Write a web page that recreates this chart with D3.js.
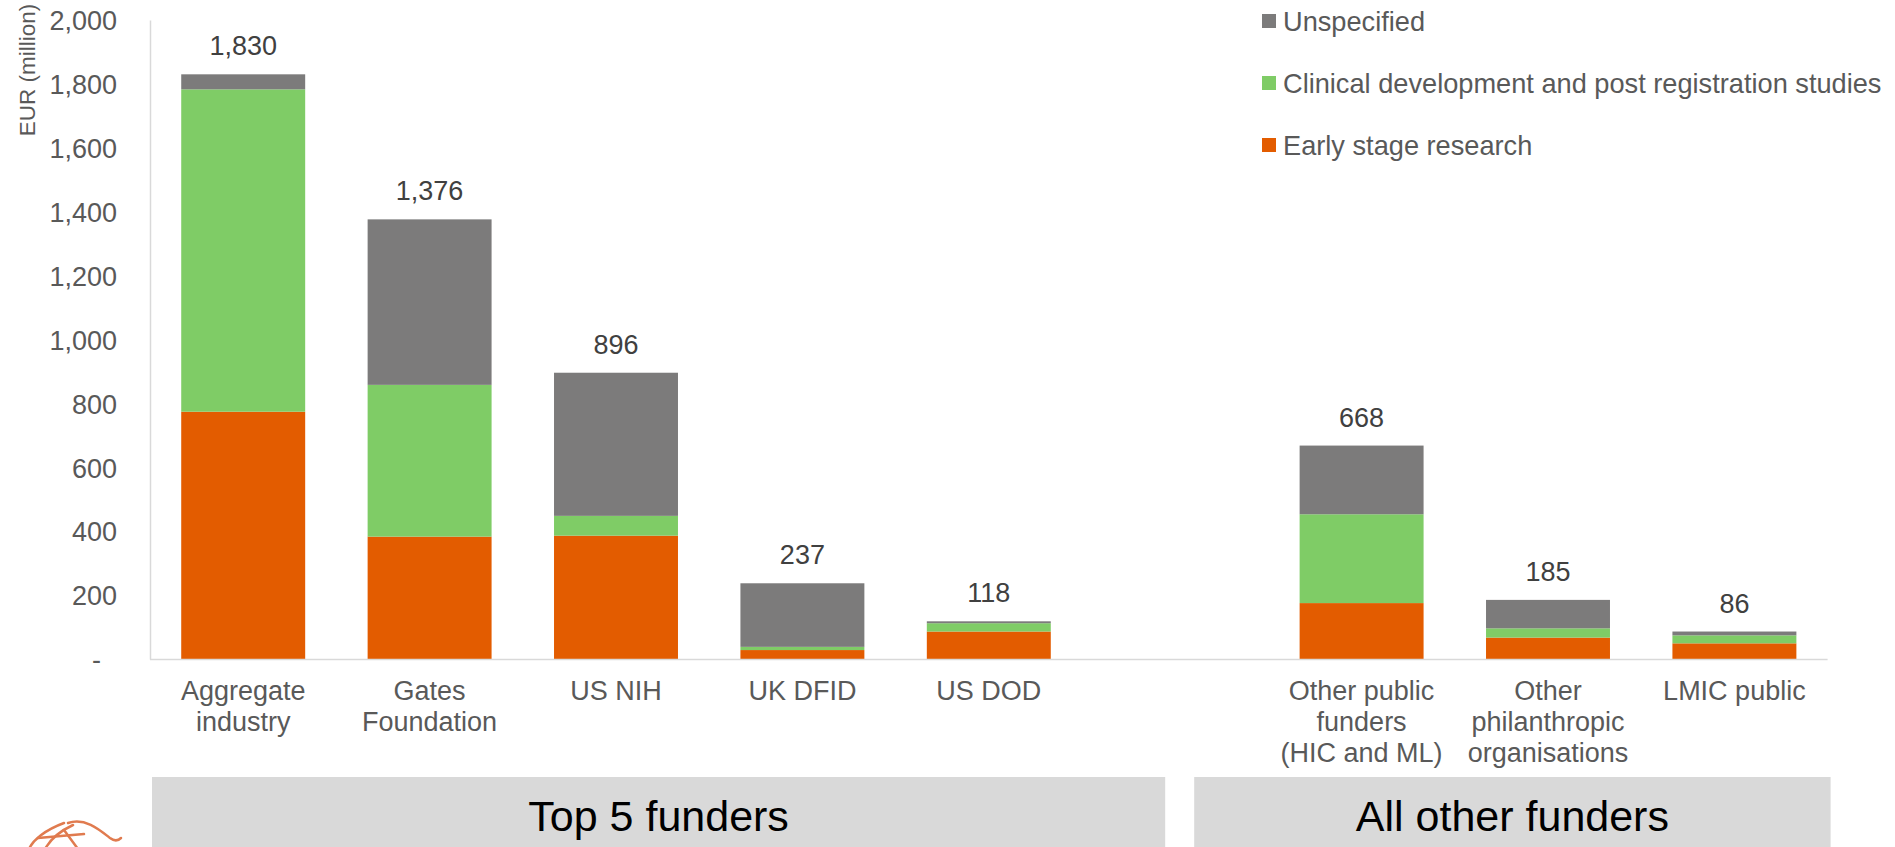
<!DOCTYPE html>
<html>
<head>
<meta charset="utf-8">
<script src="https://cdn.jsdelivr.net/npm/d3@7"></script>
<style>
  html, body { margin: 0; padding: 0; background: #ffffff; }
  svg { display: block; font-family: "Liberation Sans", Arial, sans-serif; }
</style>
</head>
<body>
<svg id="chart" width="1895" height="847"></svg>
<script>
// ---------------- data ----------------
const categories = ["Aggregate industry", "Gates Foundation", "US NIH", "UK DFID", "US DOD", "",
                    "Other public funders (HIC and ML)", "Other philanthropic organisations", "LMIC public"];
const categoryLines = [["Aggregate", "industry"], ["Gates", "Foundation"], ["US NIH"], ["UK DFID"], ["US DOD"], [],
                       ["Other public", "funders", "(HIC and ML)"], ["Other", "philanthropic", "organisations"], ["LMIC public"]];
const earlyStage   = [774, 383, 386, 28, 86, 0, 175, 67, 49];
const clinical     = [1009, 475, 62, 10, 26, 0, 278, 29, 25];
const unspecified  = [47, 518, 448, 199, 6, 0, 215, 89, 12];
const totals       = [1830, 1376, 896, 237, 118, null, 668, 185, 86];
const seriesNames  = ["Early stage research", "Clinical development and post registration studies", "Unspecified"];
const yTicks       = [0, 200, 400, 600, 800, 1000, 1200, 1400, 1600, 1800, 2000];
const groupLabels  = ["Top 5 funders", "All other funders"];

// ---------------- layout ----------------
const colors = ["#e35c00", "#7fcc66", "#7c7b7b"];
const svg = d3.select("#chart");
const plotLeft = 150, plotRight = 1827.6, plotTop = 20, plotBottom = 659;

const x = d3.scaleBand().domain(d3.range(categories.length))
  .range([plotLeft, plotRight]).paddingInner(0.335).paddingOuter(0.1675);
const y = d3.scaleLinear().domain([0, 2000]).range([plotBottom, plotTop]);

const rows = categories.map((c, i) => ({ i, s0: earlyStage[i], s1: clinical[i], s2: unspecified[i] }));
const stacked = d3.stack().keys(["s0", "s1", "s2"])(rows);

// y axis
const yAxis = svg.append("g").attr("transform", `translate(${plotLeft},0)`)
  .call(d3.axisLeft(y).tickValues(yTicks).tickSize(0).tickPadding(33)
    .tickFormat(d => d === 0 ? "-" : d3.format(",")(d)));
yAxis.select(".domain").attr("stroke", "#d9d9d9").attr("stroke-width", 1.5);
yAxis.selectAll("text").attr("fill", "#595959").style("font-size", "27px")
  .attr("font-family", "Liberation Sans, Arial, sans-serif")
  .attr("dy", "0.36em")
  .attr("dx", d => d === 0 ? -16 : 0);

// y title
svg.append("text")
  .attr("transform", `translate(35,70) rotate(-90)`)
  .attr("text-anchor", "middle").attr("fill", "#595959").style("font-size", "22.5px")
  .text("EUR (million)");

// bars
svg.append("g").selectAll("g").data(stacked).join("g")
  .attr("fill", (d, k) => colors[k])
  .selectAll("rect").data(d => d.filter(p => categories[p.data.i] !== "")).join("rect")
  .attr("x", d => x(d.data.i))
  .attr("width", x.bandwidth())
  .attr("y", d => y(d[1]))
  .attr("height", d => y(d[0]) - y(d[1]));

// baseline
svg.append("line").attr("x1", plotLeft).attr("x2", plotRight)
  .attr("y1", plotBottom + 0.5).attr("y2", plotBottom + 0.5)
  .attr("stroke", "#d9d9d9").attr("stroke-width", 1.5);

// total labels
svg.append("g").selectAll("text").data(totals.map((t, i) => ({ t, i })).filter(d => d.t !== null)).join("text")
  .attr("x", d => x(d.i) + x.bandwidth() / 2)
  .attr("y", d => y(d.t) - 19)
  .attr("text-anchor", "middle").attr("fill", "#404040").style("font-size", "27px")
  .text(d => d3.format(",")(d.t));

// category labels
const cat = svg.append("g").selectAll("text").data(categoryLines.map((l, i) => ({ l, i }))).join("text")
  .attr("text-anchor", "middle").attr("fill", "#595959").style("font-size", "27px");
cat.selectAll("tspan").data(d => d.l.map((s, k) => ({ s, k, i: d.i }))).join("tspan")
  .attr("x", d => x(d.i) + x.bandwidth() / 2)
  .attr("y", d => 700 + d.k * 31)
  .text(d => d.s);

// legend
const legendOrder = [2, 1, 0];
const legendY = [21, 83, 145];
const lg = svg.append("g").selectAll("g").data(legendOrder).join("g")
  .attr("transform", (d, k) => `translate(1262,${legendY[k]})`);
lg.append("rect").attr("x", 0).attr("y", -7).attr("width", 14).attr("height", 14).attr("fill", d => colors[d]);
lg.append("text").attr("x", 21).attr("y", 0).attr("dy", "0.36em")
  .attr("fill", "#595959").style("font-size", "27.2px").text(d => seriesNames[d]);

// group boxes
const boxes = [
  { x0: plotLeft + 2, x1: x(5) + x.bandwidth() / 2 - 10, label: groupLabels[0] },
  { x0: x(5) + x.bandwidth() / 2 + 19, x1: plotRight + 3, label: groupLabels[1] }
];
const bx = svg.append("g").selectAll("g").data(boxes).join("g");
bx.append("rect").attr("x", d => d.x0).attr("y", 777).attr("width", d => d.x1 - d.x0).attr("height", 80)
  .attr("fill", "#d9d9d9");
bx.append("text").attr("x", d => (d.x0 + d.x1) / 2).attr("y", 831)
  .attr("text-anchor", "middle").attr("fill", "#000").style("font-size", "43px").text(d => d.label);

// logo (decorative)
const logo = svg.append("g").attr("fill", "none").attr("stroke", "#e07b4f").attr("stroke-width", 2.5).attr("stroke-linecap", "round");
logo.append("path").attr("d", "M64,823 C45,830 33,840 29,849");
logo.append("path").attr("d", "M73,825 C58,832 50,840 45,849");
logo.append("path").attr("d", "M68,823 C85,817 100,830 110,838 C114,841 118,841 121,838");
logo.append("path").attr("d", "M64,830 L78,849");
logo.append("path").attr("d", "M38,838 L84,834");
</script>
</body>
</html>
